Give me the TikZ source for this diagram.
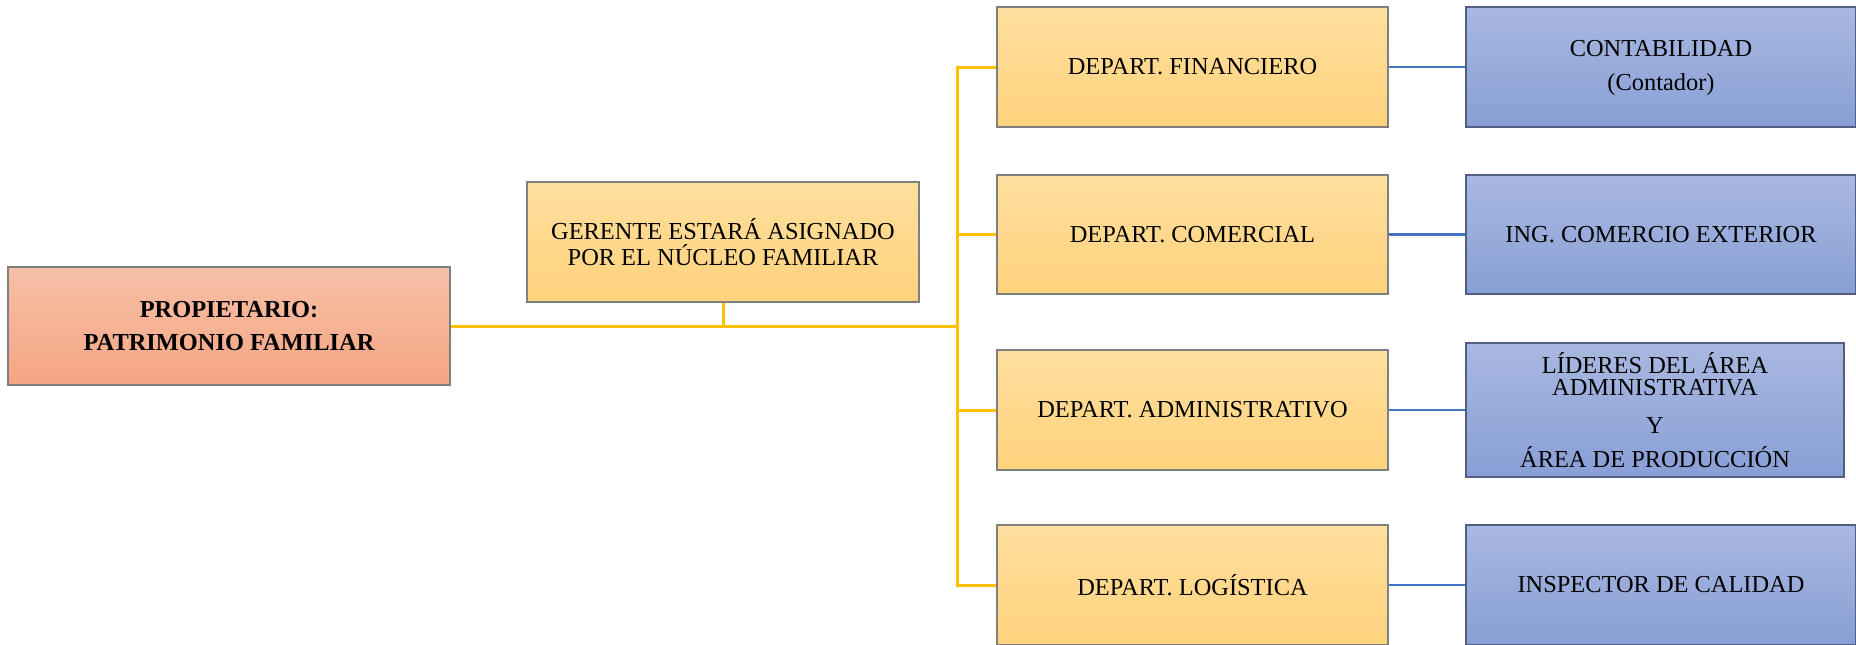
\documentclass[tikz,border=0pt]{standalone}
\usepackage{fontspec}
\setmainfont{Liberation Serif}
\definecolor{salmonT}{HTML}{F7C0A8}
\definecolor{salmonB}{HTML}{F4A582}
\definecolor{goldT}{HTML}{FFDF9E}
\definecolor{goldB}{HTML}{FFD27C}
\definecolor{blueT}{HTML}{A9B8E0}
\definecolor{blueB}{HTML}{889FD6}
\definecolor{lineGold}{HTML}{FFC000}
\definecolor{lineBlue}{HTML}{4472C4}
\definecolor{edge}{HTML}{7F7F7F}
\tikzset{
  box/.style={draw=edge, line width=0.6pt, align=center, inner sep=2pt,
    font=\fontsize{12.2}{14.6}\selectfont},
  redbox/.style={box, top color=salmonT, bottom color=salmonB},
  goldbox/.style={box, top color=goldT, bottom color=goldB},
  bluebox/.style={box, top color=blueT, bottom color=blueB, draw=blueB!60!black},
  goldline/.style={draw=lineGold, line width=1.5pt},
  blueline/.style={draw=lineBlue, line width=1.4pt},
}
\begin{document}
\begin{tikzpicture}[x=0.5pt, y=-0.5pt]
\useasboundingbox (0,0) rectangle (1856,644);
\node[redbox, minimum width=221pt, minimum height=59pt] (prop) at (229,326)
  {\bfseries PROPIETARIO:\\[2pt]\bfseries PATRIMONIO FAMILIAR};
\node[goldbox, minimum width=196pt, minimum height=60pt] (ger) at (723,242)
  {GERENTE ESTARÁ ASIGNADO\\[-1.6pt]POR EL NÚCLEO FAMILIAR};
\node[goldbox, minimum width=195.5pt, minimum height=60pt] (fin) at (1192.5,67) {DEPART. FINANCIERO};
\node[goldbox, minimum width=195.5pt, minimum height=59.5pt] (com) at (1192.5,234.5) {DEPART. COMERCIAL};
\node[goldbox, minimum width=195.5pt, minimum height=60pt] (adm) at (1192.5,410) {DEPART. ADMINISTRATIVO};
\node[goldbox, minimum width=195.5pt, minimum height=60pt] (log) at (1192.5,585) {DEPART. LOGÍSTICA};
\node[bluebox, minimum width=195pt, minimum height=60pt] (cont) at (1661,67)
  {\rule{0pt}{9pt}CONTABILIDAD\\[2pt](Contador)};
\node[bluebox, minimum width=195pt, minimum height=59.5pt] (ing) at (1661,234.5) {ING. COMERCIO EXTERIOR};
\node[bluebox, minimum width=189pt, minimum height=67pt] (lid) at (1655,410)
  {LÍDERES DEL ÁREA\\[-3.6pt]ADMINISTRATIVA\\[4.4pt]Y\\[2.4pt]ÁREA DE PRODUCCIÓN};
\node[bluebox, minimum width=195pt, minimum height=60pt] (insp) at (1661,585) {INSPECTOR DE CALIDAD};
\coordinate (t) at (957,326);
\draw[goldline] (prop.east) -- (t);
\draw[goldline] (ger.south) -- (ger.south |- t);
\draw[goldline] (t) |- (fin.west);
\draw[goldline] (t) |- (com.west);
\draw[goldline] (t) |- (adm.west);
\draw[goldline] (t) |- (log.west);
\draw[blueline] (fin.east) -- (cont.west);
\draw[blueline] (com.east) -- (ing.west);
\draw[blueline] (adm.east) -- (lid.west);
\draw[blueline] (log.east) -- (insp.west);
\end{tikzpicture}
\end{document}
